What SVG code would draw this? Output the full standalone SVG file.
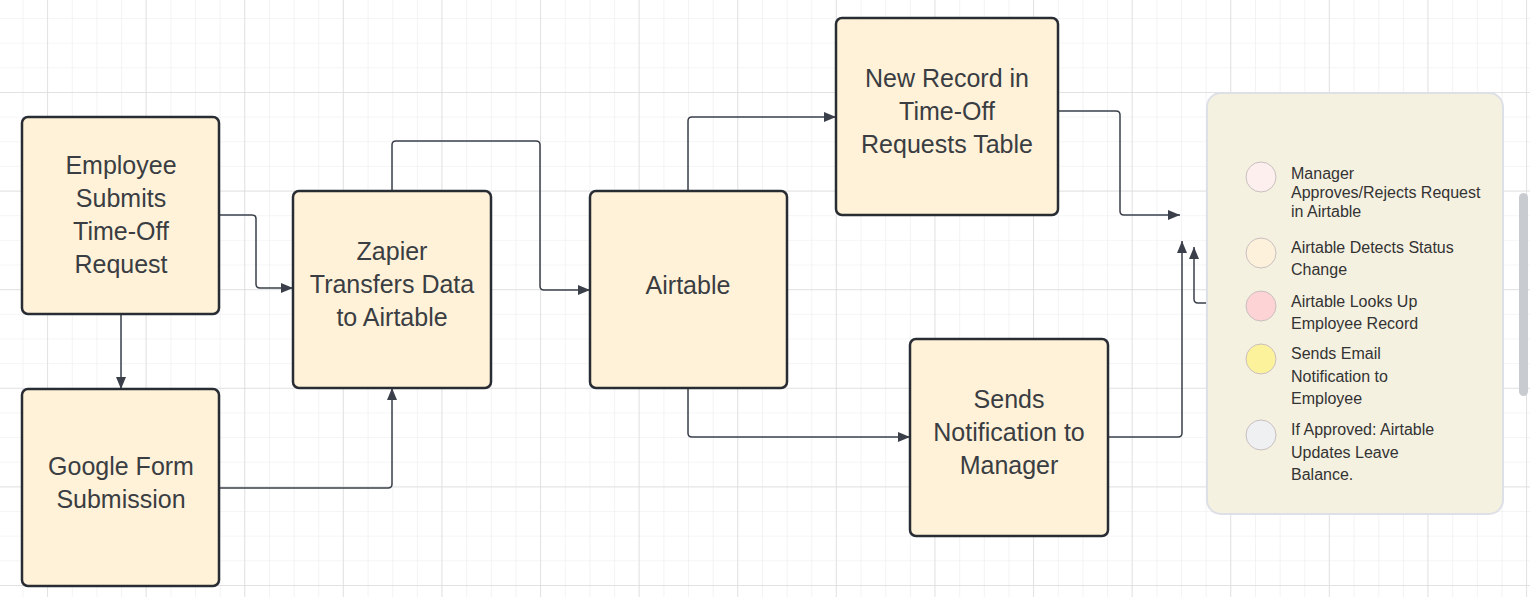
<svg xmlns="http://www.w3.org/2000/svg" width="1530" height="597" viewBox="0 0 1530 597">
<style>
.n{fill:#fff2d9;stroke:#282c33;stroke-width:2.5}
.t{font-family:"Liberation Sans",Arial,sans-serif;font-size:25px;fill:#3a3d42;text-anchor:middle}
.l{font-family:"Liberation Sans",Arial,sans-serif;font-size:16px;fill:#333}
.c{fill:none;stroke:#3a3f4a;stroke-width:1.5;marker-end:url(#a)}
.d{stroke:#c9bfbf;stroke-width:1}
</style>
<defs>
<marker id="a" markerWidth="12" markerHeight="10" refX="12" refY="5" orient="auto" markerUnits="userSpaceOnUse"><path d="M0,0L12,5L0,10z" fill="#3a3f4a"/></marker>
<pattern id="g" x="22.5" y="18" width="24.65" height="24.65" patternUnits="userSpaceOnUse"><path d="M0,0V24.65M0,0H24.65" stroke="#ececec" stroke-width="1.2" fill="none"/></pattern>
<pattern id="G" x="47" y="92" width="98.6" height="98.6" patternUnits="userSpaceOnUse"><path d="M0,0V98.6M0,0H98.6" stroke="#dcdcdc" stroke-width="1.4" fill="none"/></pattern>
</defs>
<rect width="1530" height="597" fill="#fff"/>
<rect width="1530" height="597" fill="url(#g)"/>
<rect width="1530" height="597" fill="url(#G)"/>
<g id="connectors">
<path class="c" d="M219,215H252Q256,215 256,219V284Q256,288 260,288H293"/>
<path class="c" d="M121,314V389"/>
<path class="c" d="M219,488H388Q392,488 392,484V388"/>
<path class="c" d="M392,191V145Q392,141 396,141H536Q540,141 540,145V286Q540,290 544,290H590"/>
<path class="c" d="M688,191V121Q688,117 692,117H836"/>
<path class="c" d="M688,388V433Q688,437 692,437H910"/>
<path class="c" d="M1058,111H1116Q1120,111 1120,115V211Q1120,215 1124,215H1180"/>
<path class="c" d="M1108,437H1178Q1182,437 1182,433V241"/>
<path class="c" d="M1207,303H1198Q1194,303 1194,299V247"/>
</g>
<g id="employee"><rect class="n" x="22" y="117" width="197" height="197" rx="6"/><text class="t" x="121" y="174">Employee<tspan x="121" dy="33">Submits</tspan><tspan x="121" dy="33">Time-Off</tspan><tspan x="121" dy="33">Request</tspan></text></g>
<g id="google"><rect class="n" x="22" y="389" width="197" height="197" rx="6"/><text class="t" x="121" y="475">Google Form<tspan x="121" dy="33">Submission</tspan></text></g>
<g id="zapier"><rect class="n" x="293" y="191" width="198" height="197" rx="6"/><text class="t" x="392" y="260">Zapier<tspan x="392" dy="33">Transfers Data</tspan><tspan x="392" dy="33">to Airtable</tspan></text></g>
<g id="airtable"><rect class="n" x="590" y="191" width="197" height="197" rx="6"/><text class="t" x="688" y="294">Airtable</text></g>
<g id="newrecord"><rect class="n" x="836" y="18" width="222" height="197" rx="6"/><text class="t" x="947" y="87">New Record in<tspan x="947" dy="33">Time-Off</tspan><tspan x="947" dy="33">Requests Table</tspan></text></g>
<g id="sends"><rect class="n" x="910" y="339" width="198" height="197" rx="6"/><text class="t" x="1009" y="408">Sends<tspan x="1009" dy="33">Notification to</tspan><tspan x="1009" dy="33">Manager</tspan></text></g>
<g id="legend">
<rect x="1207" y="93" width="296" height="421" rx="14" fill="#f5f1e1" stroke="#dde0e6" stroke-width="2"/>
<circle class="d" cx="1261" cy="177" r="15" fill="#fcefee"/>
<circle class="d" cx="1261" cy="253" r="15" fill="#fdf1dc"/>
<circle class="d" cx="1261" cy="306" r="15" fill="#fdd3d6"/>
<circle class="d" cx="1261" cy="359" r="15" fill="#fdf29c"/>
<circle class="d" cx="1261" cy="435" r="15" fill="#eff0f2"/>
<text class="l" x="1291" y="179" font-size="13.5">Manager<tspan x="1291" dy="19">Approves/Rejects Request</tspan><tspan x="1291" dy="19">in Airtable</tspan></text>
<text class="l" x="1291" y="253">Airtable Detects Status<tspan x="1291" dy="22">Change</tspan></text>
<text class="l" x="1291" y="307">Airtable Looks Up<tspan x="1291" dy="22">Employee Record</tspan></text>
<text class="l" x="1291" y="359">Sends Email<tspan x="1291" dy="22.5">Notification to</tspan><tspan x="1291" dy="22.5">Employee</tspan></text>
<text class="l" x="1291" y="435">If Approved: Airtable<tspan x="1291" dy="22.5">Updates Leave</tspan><tspan x="1291" dy="22.5">Balance.</tspan></text>
</g>
<rect x="1519" y="193" width="9" height="203" rx="4.5" fill="#c8cbd0"/>
</svg>
